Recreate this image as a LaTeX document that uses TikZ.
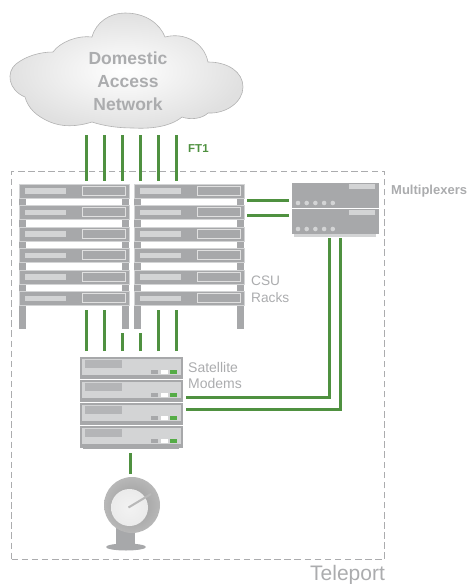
\documentclass[tikz,border=0pt]{standalone}
\usepackage{fontspec}
\setmainfont{Liberation Sans}
\usetikzlibrary{shapes.geometric}
\definecolor{wiregreen}{HTML}{4F9140}
\definecolor{ledgreen}{HTML}{55AC46}
\definecolor{rackgray}{HTML}{A7A8AA}
\definecolor{lightgray}{HTML}{D3D4D5}
\definecolor{labelgray}{HTML}{ABACAE}
\tikzset{
  wire/.style={wiregreen, line width=3pt},
  caption/.style={labelgray, anchor=west, inner sep=0pt},
  rackunit/.style={draw=lightgray, fill=rackgray, line width=1.2pt, minimum width=109.5pt, minimum height=14pt, inner sep=0pt, anchor=north west},
  modemunit/.style={draw=rackgray, fill=lightgray, line width=2pt, minimum width=101pt, minimum height=20.5pt, inner sep=0pt, anchor=north west},
  muxunit/.style={fill=rackgray, minimum width=87pt, minimum height=25pt, inner sep=0pt, anchor=north west},
}
\begin{document}
\begin{tikzpicture}[x=1pt, y=-1pt]
\useasboundingbox (0,0) rectangle (468,584);
% cloud
\path[draw=black!30, line width=0.6pt, inner color=white, outer color=black!12]
  (25,97) .. controls (8,90) and (6,72) .. (16,64)
  .. controls (26,56) and (40,52) .. (53,52)
  .. controls (60,42) and (78,35) .. (92,37)
  .. controls (96,22) and (110,13) .. (125,13)
  .. controls (146,13) and (160,24) .. (165,37)
  .. controls (184,32) and (204,42) .. (208,62)
  .. controls (228,62) and (243,72) .. (243,87)
  .. controls (243,102) and (226,114) .. (208,113)
  .. controls (202,119) and (190,120) .. (182,117)
  .. controls (170,127) and (150,129) .. (133,128)
  .. controls (118,128) and (104,126) .. (92,122)
  .. controls (76,127) and (62,127) .. (50,122)
  .. controls (36,116) and (28,108) .. (25,97) -- cycle;
\node[labelgray, font=\bfseries\fontsize{17.5}{23}\selectfont, align=center, inner sep=0pt] (cloudtxt) at (128,81) {Domestic\\Access\\Network};
% teleport frame
\node[draw=labelgray, dash pattern=on 6.5pt off 3.6pt, line width=1.3pt, minimum width=373pt, minimum height=388pt, inner sep=0pt, anchor=north west] (teleport) at (11,171) {};
% racks
\foreach \rx/\rk in {19/a, 134/b}{
  \fill[rackgray] (\rx,190) rectangle +(7,139);
  \fill[rackgray] (\rx+103,190) rectangle +(7,139);
  \foreach \uy [count=\i] in {183.5,205,226.5,248,269.5,291}{
    \node[rackunit] (rack\rk\i) at (\rx,\uy) {};
    \fill[lightgray] (\rx+6,\uy+4.5) rectangle +(41,5.5);
    \draw[white!88!black, line width=1pt] (\rx+63,\uy+2.5) rectangle +(43,9);
  }
}
% multiplexers
\fill[lightgray] (294,234) rectangle (376,237);
\foreach \uy [count=\i] in {183,209}{
  \node[muxunit] (mux\i) at (292,\uy) {};
  \fill[lightgray] (349,\uy+1) rectangle +(26,5);
  \foreach \k in {0,1,2,3,4}
    \fill[lightgray] (298+\k*8.7,\uy+20) circle (2.3);
}
% modems
\fill[rackgray] (83,447) rectangle (179,449);
\foreach \uy [count=\i] in {356.5,379.5,402.5,425.5}{
  \node[modemunit] (modem\i) at (80,\uy) {};
  \fill[rackgray] (80,\uy+18.5) rectangle +(101,2.5);
  \fill[rackgray!85!white] (85,\uy+3.5) rectangle +(37,8);
  \fill[rackgray] (151,\uy+13) rectangle +(7,4);
  \fill[white] (161,\uy+13) rectangle +(7,4);
  \fill[ledgreen] (170,\uy+13) rectangle +(7,4);
}
% dish
\fill[rackgray] (116,525) rectangle (135,546);
\node[fill=rackgray, ellipse, minimum width=40pt, minimum height=7pt, inner sep=0pt] (dishfoot) at (126,547) {};
\node[circle, inner color=black!40, outer color=black!28, minimum size=56pt, inner sep=0pt] (dish) at (132,505) {};
\node[circle, inner color=white!95!black, outer color=black!8, minimum size=37pt, inner sep=0pt] (dishface) at (129.5,507.5) {};
\draw[black!28, line width=2pt] (dishface.center) ++(-1,0) -- (151,494);
% wires
\foreach \wx [count=\i] in {86,104,122,140,158,176}{
  \coordinate (ftop\i) at (\wx,135);
  \draw[wire, shorten >=3pt] (ftop\i) -- (ftop\i |- racka1.north);
  \coordinate (mbot\i) at (\wx,351);
}
\foreach \i in {1,2,5,6}
  \draw[wire] (mbot\i) -- ++(0,-41);
\foreach \i in {3,4}
  \draw[wire] (mbot\i) -- ++(0,-18);
\coordinate (dishtop) at (130,474);
\draw[wire] (dishtop) -- ++(0,-21);
\coordinate (mxa) at (289,200.7);
\coordinate (mxb) at (289,215);
\draw[wire] (mxa) -- ++(-42,0);
\draw[wire] (mxb) -- ++(-42,0);
\coordinate (mda) at (186,397.5);
\coordinate (mdb) at (186,409);
\coordinate (mua) at (329.5,238);
\coordinate (mub) at (340.5,238);
\draw[wire] (mda) -| (mua);
\draw[wire] (mdb) -| (mub);
% labels
\node[caption, text=wiregreen, font=\bfseries\fontsize{11.5}{13}\selectfont] (ftlabel) at (188,149) {FT1};
\node[caption, font=\bfseries\fontsize{13}{15}\selectfont] (muxlabel) at (391,191) {Multiplexers};
\node[caption, align=left, font=\fontsize{13.7}{17}\selectfont] (csulabel) at (251,289) {CSU\\Racks};
\node[caption, align=left, font=\fontsize{14}{15.7}\selectfont] (modemlabel) at (188,375.5) {Satellite\\Modems};
\node[caption, font=\fontsize{21}{23}\selectfont] (teleportlabel) at (310,575) {Teleport};
\end{tikzpicture}
\end{document}
